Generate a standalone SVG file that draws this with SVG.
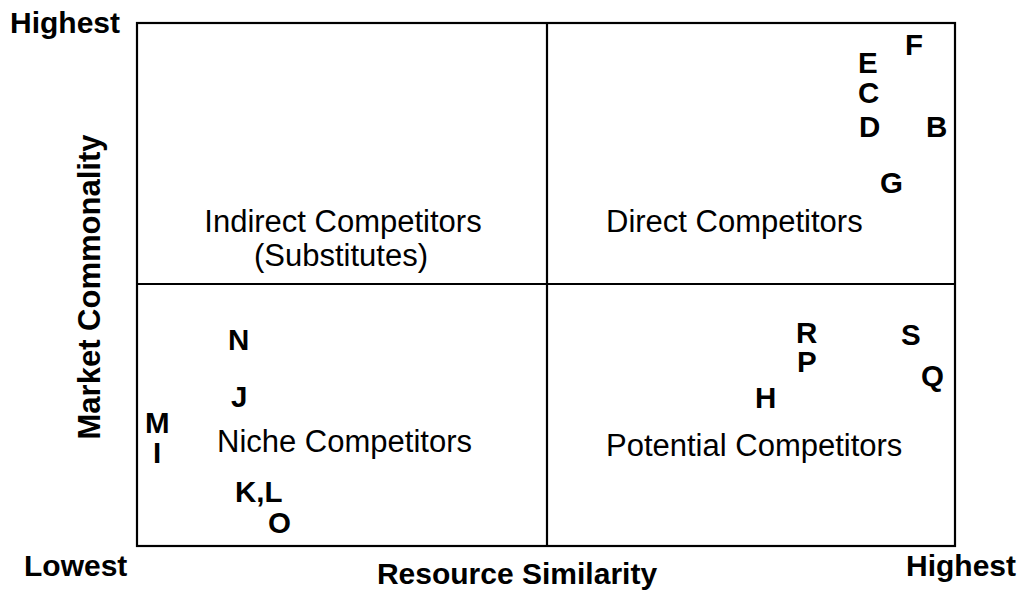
<svg xmlns="http://www.w3.org/2000/svg" width="1022" height="592" viewBox="0 0 1022 592">
<style>
.ax{font-family:"Liberation Sans",Arial,sans-serif;font-weight:bold;font-size:30px;fill:#000}
.q{font-family:"Liberation Sans",Arial,sans-serif;font-size:31px;fill:#000}
.pt{font-family:"Liberation Sans",Arial,sans-serif;font-weight:bold;font-size:29.5px;fill:#000}
.ln{stroke:#000;stroke-width:2.2;fill:none}
</style>
<rect width="1022" height="592" fill="#fff"/>
<g id="grid">
<rect class="ln" x="137" y="23" width="818" height="523"/>
<line class="ln" x1="547" y1="23" x2="547" y2="546"/>
<line class="ln" x1="137" y1="284" x2="955" y2="284"/>
</g>
<g id="axes">
<text class="ax" x="10" y="33">Highest</text>
<text class="ax" x="24" y="576">Lowest</text>
<text class="ax" x="1016" y="576" text-anchor="end">Highest</text>
<text class="ax" x="517" y="584" text-anchor="middle">Resource Similarity</text>
<text class="ax" transform="translate(100,287) rotate(-90)" text-anchor="middle" style="font-size:31px">Market Commonality</text>
</g>
<g id="quadrants">
<text class="q" x="343" y="232" text-anchor="middle">Indirect Competitors</text>
<text class="q" x="341" y="266" text-anchor="middle">(Substitutes)</text>
<text class="q" x="606" y="232">Direct Competitors</text>
<text class="q" x="217" y="452">Niche Competitors</text>
<text class="q" x="606" y="456">Potential Competitors</text>
</g>
<g id="points">
<text class="pt" x="905" y="55">F</text>
<text class="pt" x="858" y="73">E</text>
<text class="pt" x="858" y="103">C</text>
<text class="pt" x="859" y="137">D</text>
<text class="pt" x="926" y="137">B</text>
<text class="pt" x="880" y="193">G</text>
<text class="pt" x="796" y="343">R</text>
<text class="pt" x="797" y="372">P</text>
<text class="pt" x="755" y="408">H</text>
<text class="pt" x="901" y="345">S</text>
<text class="pt" x="921" y="386">Q</text>
<text class="pt" x="228" y="350">N</text>
<text class="pt" x="231" y="407">J</text>
<text class="pt" x="145" y="433">M</text>
<text class="pt" x="153" y="463">I</text>
<text class="pt" x="235" y="502">K,L</text>
<text class="pt" x="268" y="533">O</text>
</g>
</svg>
